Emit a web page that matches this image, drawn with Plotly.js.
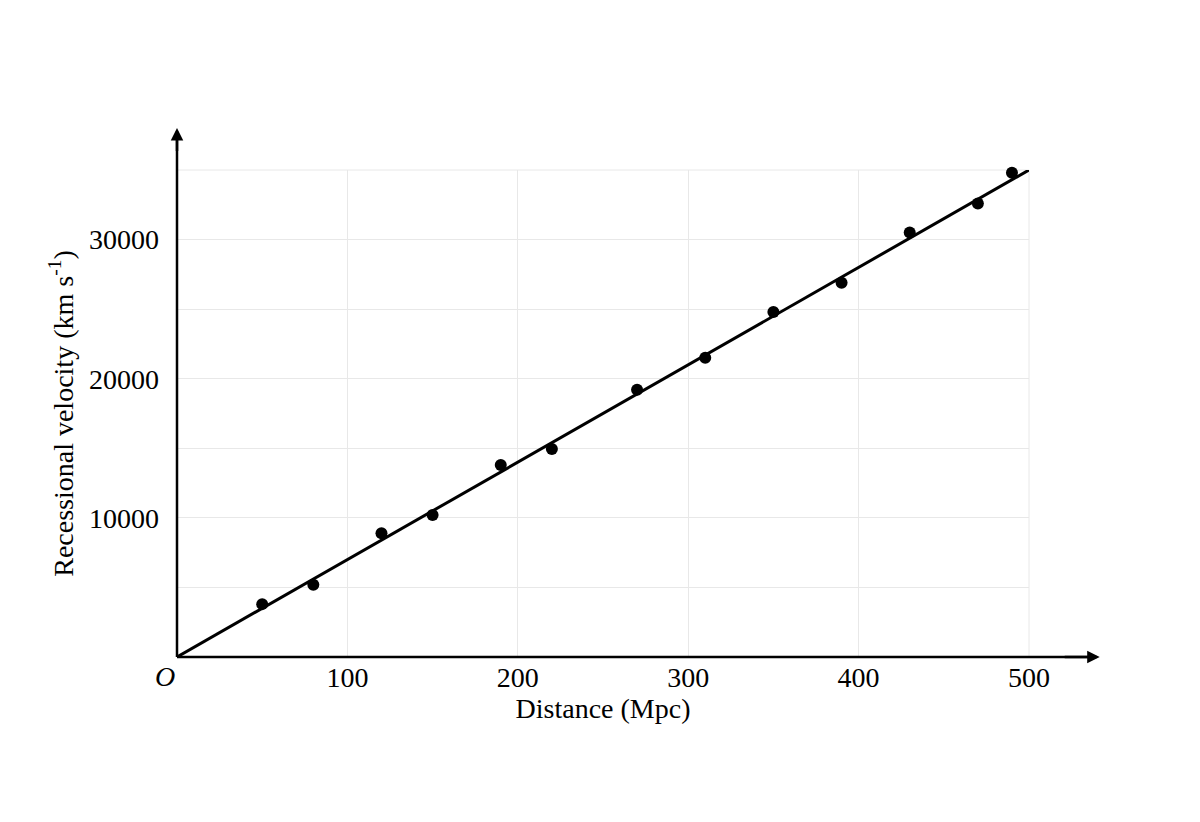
<!DOCTYPE html>
<html>
<head>
<meta charset="utf-8">
<script src="https://cdn.plot.ly/plotly-3.0.1.min.js"></script>
<style>html,body{margin:0;padding:0;background:#fff;}#chart{width:1200px;height:822px;}</style>
</head>
<body>
<div id="chart"></div>
<script>
// Data
const distance = [50, 80, 120, 150, 190, 220, 270, 310, 350, 390, 430, 470, 490];
const velocity = [3800, 5200, 8900, 10200, 13800, 14950, 19200, 21500, 24800, 26900, 30500, 32600, 34800];
const fitX = [0, 500];
const fitY = [0, 35000];
const xTickVals = [100, 200, 300, 400, 500];
const xTickText = ['100', '200', '300', '400', '500'];
const yTickVals = [10000, 20000, 30000];
const yTickText = ['10000', '20000', '30000'];

const FONT = 'Liberation Serif, Times New Roman, serif';
const gridColor = '#e8e8e8';

const traces = [
  {x: fitX, y: fitY, mode: 'lines', line: {color: '#000', width: 3}, hoverinfo: 'skip', cliponaxis: false},
  {x: distance, y: velocity, mode: 'markers', marker: {color: '#000', size: 12}, cliponaxis: false}
];

const layout = {
  width: 1200, height: 822,
  margin: {l: 177, r: 171, t: 170, b: 165},
  paper_bgcolor: '#fff', plot_bgcolor: '#fff',
  showlegend: false,
  font: {family: FONT, size: 28, color: '#000'},
  xaxis: {
    range: [0, 500], tickvals: xTickVals, ticktext: xTickText,
    showgrid: true, gridcolor: gridColor, gridwidth: 1,
    zeroline: false, showline: false,
    ticks: '', ticklabelstandoff: 1,
    tickfont: {family: FONT, size: 28, color: '#000'},
    title: {text: 'Distance (Mpc)', font: {family: FONT, size: 28, color: '#000'}, standoff: 6}
  },
  yaxis: {
    range: [0, 35000], tickvals: yTickVals, ticktext: yTickText,
    showgrid: true, gridcolor: gridColor, gridwidth: 1,
    minor: {dtick: 5000, tick0: 0, showgrid: true, gridcolor: gridColor, gridwidth: 1, ticks: ''},
    zeroline: false, showline: false,
    ticks: '', ticklabelstandoff: 17,
    tickfont: {family: FONT, size: 28, color: '#000'},
    title: {text: 'Recessional velocity (km s<sup>-1</sup>)', font: {family: FONT, size: 28, color: '#000'}, standoff: 7}
  },
  shapes: [
    {type: 'line', xref: 'paper', yref: 'paper', x0: 0, x1: 1, y0: 1, y1: 1, line: {color: gridColor, width: 1}, layer: 'below'},
    {type: 'line', xref: 'paper', yref: 'paper', x0: 1, x1: 1, y0: 0, y1: 1, line: {color: gridColor, width: 1}, layer: 'below'},
    {type: 'line', xref: 'paper', yref: 'paper', x0: 0, x1: 1.075, y0: 0, y1: 0, line: {color: '#000', width: 2.5}},
    {type: 'line', xref: 'paper', yref: 'paper', x0: 0, x1: 0, y0: 0, y1: 1.075, line: {color: '#000', width: 2.5}}
  ],
  annotations: [
    {xref: 'paper', yref: 'paper', x: 1.083, y: 0, ax: -40, ay: 0, axref: 'pixel', ayref: 'pixel',
     showarrow: true, arrowhead: 2, arrowsize: 1, arrowwidth: 2.5, arrowcolor: '#000', standoff: 0},
    {xref: 'paper', yref: 'paper', x: 0, y: 1.086, ax: 0, ay: 40, axref: 'pixel', ayref: 'pixel',
     showarrow: true, arrowhead: 2, arrowsize: 1, arrowwidth: 2.5, arrowcolor: '#000', standoff: 0},
    {xref: 'paper', yref: 'paper', x: 0, y: 0, xanchor: 'right', yanchor: 'top', xshift: 0, yshift: -2,
     text: '<i>O</i>', showarrow: false, font: {family: FONT, size: 28, color: '#000'}}
  ]
};

Plotly.newPlot('chart', traces, layout, {displayModeBar: false, staticPlot: true});
</script>
</body>
</html>
